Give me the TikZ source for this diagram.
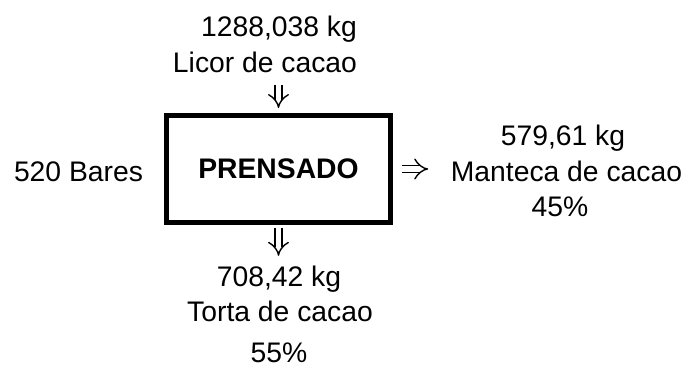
\documentclass[tikz,border=0pt]{standalone}
\usepackage{fontspec}
\setmainfont{Liberation Sans}
\usetikzlibrary{arrows.meta}

\begin{document}
\begin{tikzpicture}[
    lbl/.style={inner sep=0pt, anchor=base, font=\fontsize{8.05}{9.66}\selectfont},
    procbox/.style={draw, line width=1.56pt, minimum width=2.235cm, minimum height=1.065cm, inner sep=0pt, font=\fontsize{8.05}{9.66}\selectfont\bfseries},
    flow/.style={double, double distance=1.7pt, line width=0.4pt, -{Implies}}
  ]
    \useasboundingbox (0,0) rectangle (6.83,-3.67);

    \node[procbox] (box) at (2.785,-1.69) {PRENSADO};

    \node[lbl] (kgin) at (2.79,-0.37) {1288,038 kg};
    \node[lbl] (licor) at (2.65,-0.73) {Licor de cacao};
    \node[lbl] (bares) at (0.785,-1.82) {520 Bares};

    \node[lbl] (kgout) at (5.63,-1.46) {579,61 kg};
    \node[lbl] (manteca) at (5.665,-1.82) {Manteca de cacao};
    \node[lbl] (pmanteca) at (5.60,-2.17) {45\%};

    \node[lbl] (kgtorta) at (2.79,-2.87) {708,42 kg};
    \node[lbl] (torta) at (2.80,-3.22) {Torta de cacao};
    \node[lbl] (ptorta) at (2.79,-3.63) {55\%};

    % flechas dobles
    \draw[flow, shorten <=0.11cm, shorten >=0.05cm] (box.north |- licor.south) -- (box.north);
    \draw[flow, shorten <=0.09cm, shorten >=0.22cm] (box.east) -- (box.east -| manteca.west);
    \draw[flow, shorten <=0.03cm, shorten >=0.10cm] (box.south) -- (box.south |- kgtorta.north);
\end{tikzpicture}
\end{document}
